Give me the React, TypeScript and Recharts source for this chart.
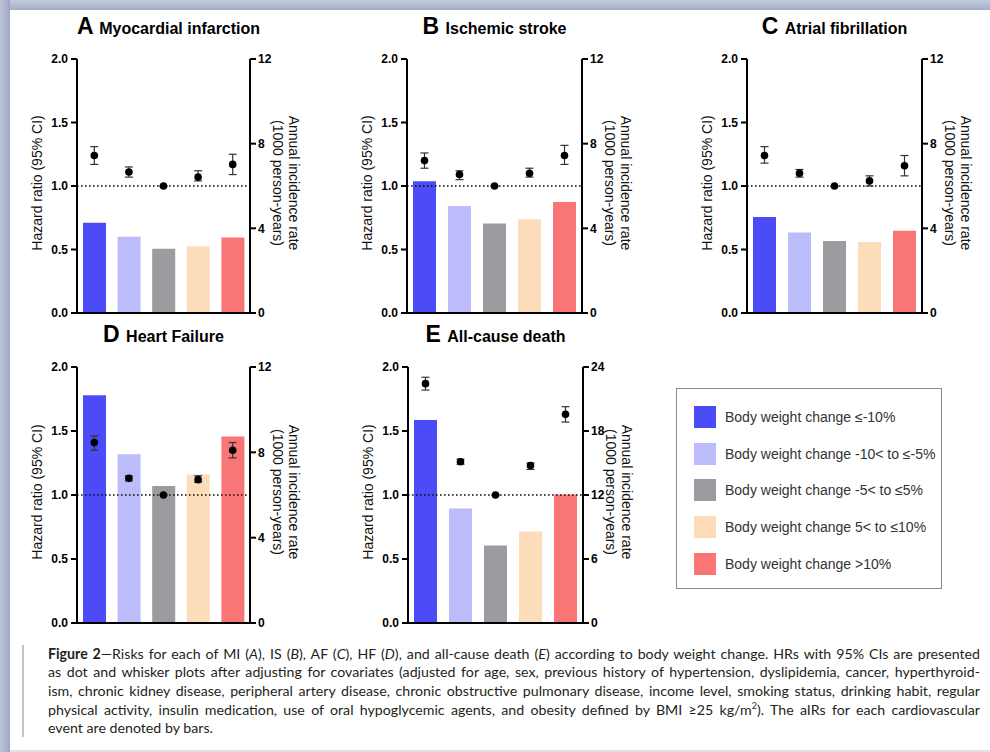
import React from "react";
import {
  ComposedChart,
  Bar,
  Line,
  Cell,
  XAxis,
  YAxis,
  ErrorBar,
  ReferenceLine,
} from "recharts";

// body weight change groups (x categories)
const groups = ["≤-10%", "-10< to ≤-5%", "-5< to ≤5%", "5< to ≤10%", ">10%"];
const groupColors = ["#4b4bf7", "#bcbcfb", "#9c9ca0", "#fddcb9", "#fa7676"];

const hrTicks = [0, 0.5, 1, 1.5, 2];
const rateTicks12 = [0, 4, 8, 12];
const rateTicks24 = [0, 6, 12, 18, 24];

// A: myocardial infarction
const miRate = [4.26, 3.6, 3.03, 3.15, 3.57];
const miHr = [1.24, 1.11, 1.0, 1.07, 1.17];
const miLo = [1.17, 1.07, 1.0, 1.04, 1.09];
const miHi = [1.31, 1.15, 1.0, 1.12, 1.25];

// B: ischemic stroke
const isRate = [6.23, 5.06, 4.23, 4.43, 5.25];
const isHr = [1.2, 1.09, 1.0, 1.1, 1.24];
const isLo = [1.14, 1.05, 1.0, 1.07, 1.17];
const isHi = [1.26, 1.12, 1.0, 1.14, 1.32];

// C: atrial fibrillation
const afRate = [4.54, 3.8, 3.4, 3.36, 3.88];
const afHr = [1.24, 1.1, 1.0, 1.04, 1.16];
const afLo = [1.18, 1.07, 1.0, 1.0, 1.08];
const afHi = [1.31, 1.13, 1.0, 1.08, 1.24];

// D: heart failure
const hfRate = [10.67, 7.91, 6.42, 6.96, 8.74];
const hfHr = [1.41, 1.13, 1.0, 1.12, 1.35];
const hfLo = [1.35, 1.11, 1.0, 1.1, 1.29];
const hfHi = [1.46, 1.15, 1.0, 1.15, 1.41];

// E: all-cause death
const deathRate = [19.03, 10.74, 7.27, 8.58, 12.05];
const deathHr = [1.87, 1.26, 1.0, 1.23, 1.63];
const deathLo = [1.82, 1.24, 1.0, 1.2, 1.57];
const deathHi = [1.92, 1.28, 1.0, 1.25, 1.69];

const FONT = '"Liberation Sans", Arial, Helvetica, sans-serif';

const buildRows = (rate: number[], hr: number[], lo: number[], hi: number[]) =>
  groups.map((g, i) => ({
    group: g,
    rate: rate[i],
    hr: hr[i],
    err: [hr[i] - lo[i], hi[i] - hr[i]],
  }));

const HrLabel = (props: any) => {
  const { x, y, width, height } = props.viewBox;
  const cx = x + width - 40;
  const cy = y + height / 2 - 3;
  return (
    <text
      x={cx}
      y={cy}
      transform={`rotate(-90 ${cx} ${cy})`}
      textAnchor="middle"
      dominantBaseline="central"
      fontSize={14}
      fontFamily={FONT}
      fill="#111"
    >
      Hazard ratio (95% CI)
    </text>
  );
};

const RateLabel = (props: any) => {
  const { x, y, height } = props.viewBox;
  const cy = y + height / 2 - 3;
  const c1 = x + 44;
  const c2 = x + 28;
  return (
    <g fontSize={14} fontFamily={FONT} fill="#111">
      <text
        x={c1}
        y={cy}
        transform={`rotate(90 ${c1} ${cy})`}
        textAnchor="middle"
        dominantBaseline="central"
      >
        Annual incidence rate
      </text>
      <text
        x={c2}
        y={cy}
        transform={`rotate(90 ${c2} ${cy})`}
        textAnchor="middle"
        dominantBaseline="central"
      >
        (1000 person-years)
      </text>
    </g>
  );
};

interface PanelProps {
  letter: string;
  name: string;
  left: number;
  top: number;
  plotW: number;
  plotH: number;
  rate: number[];
  hr: number[];
  lo: number[];
  hi: number[];
  rateTicks: number[];
}

function Panel({ letter, name, left, top, plotW, plotH, rate, hr, lo, hi, rateTicks }: PanelProps) {
  const rows = buildRows(rate, hr, lo, hi);
  const axisStyle = { stroke: "#000", strokeWidth: 2 };
  const tickStyle = { fontSize: 12, fontWeight: 700, fill: "#000", fontFamily: FONT };
  return (
    <>
      <div
        style={{
          position: "absolute",
          left,
          top: top - 46,
          width: plotW,
          height: 26,
          lineHeight: "26px",
          textAlign: "center",
          fontFamily: FONT,
          fontWeight: 700,
          whiteSpace: "nowrap",
          color: "#000",
        }}
      >
        <span style={{ fontSize: 23 }}>{letter} </span>
        <span style={{ fontSize: 16 }}>{name}</span>
      </div>
      <div style={{ position: "absolute", left: left - 70, top: top - 12 }}>
        <ComposedChart
          width={plotW + 140}
          height={plotH + 22}
          data={rows}
          margin={{ top: 12, right: 0, bottom: 9, left: 0 }}
        >
          <XAxis
            dataKey="group"
            tick={false}
            tickLine={false}
            height={1}
            axisLine={axisStyle}
          />
          <YAxis
            yAxisId="hr"
            orientation="left"
            width={70}
            domain={[0, 2]}
            ticks={hrTicks}
            interval={0}
            tickFormatter={(v: number) => v.toFixed(1)}
            axisLine={axisStyle}
            tickLine={axisStyle}
            tickSize={6}
            tickMargin={3}
            tick={tickStyle}
            label={HrLabel}
          />
          <YAxis
            yAxisId="rate"
            orientation="right"
            width={70}
            domain={[0, rateTicks[rateTicks.length - 1]]}
            ticks={rateTicks}
            interval={0}
            axisLine={axisStyle}
            tickLine={axisStyle}
            tickSize={6}
            tickMargin={2}
            tick={tickStyle}
            label={RateLabel}
          />
          <Bar yAxisId="rate" dataKey="rate" barSize={23} isAnimationActive={false}>
            {rows.map((r, i) => (
              <Cell key={r.group} fill={groupColors[i]} />
            ))}
          </Bar>
          <ReferenceLine
            yAxisId="hr"
            y={1}
            stroke="#111"
            strokeWidth={1.6}
            strokeDasharray="1.6 2.4"
          />
          <Line
            yAxisId="hr"
            dataKey="hr"
            stroke="none"
            dot={{ r: 3.8, fill: "#000", stroke: "#000", strokeWidth: 0 }}
            activeDot={false}
            isAnimationActive={false}
          >
            <ErrorBar dataKey="err" direction="y" width={4} stroke="#333" strokeWidth={1.2} />
          </Line>
        </ComposedChart>
      </div>
    </>
  );
}

const captionLines = [
  "as dot and whisker plots after adjusting for covariates (adjusted for age, sex, previous history of hypertension, dyslipidemia, cancer, hyperthyroid-",
  "ism, chronic kidney disease, peripheral artery disease, chronic obstructive pulmonary disease, income level, smoking status, drinking habit, regular",
];

export default function App() {
  const lineStyle: React.CSSProperties = {
    height: 18.7,
    lineHeight: "18.7px",
    whiteSpace: "nowrap",
    textAlign: "justify",
    textAlignLast: "justify",
  };
  return (
    <div
      style={{
        position: "absolute",
        left: 0,
        top: 0,
        width: 990,
        height: 752,
        overflow: "hidden",
        background: "#fff",
        fontFamily: FONT,
      }}
    >
      {/* frame */}
      <div
        style={{
          position: "absolute",
          left: 0,
          top: 0,
          width: 990,
          height: 10,
          background: "linear-gradient(to bottom, #c6ccdb, #a3adc6)",
        }}
      />
      <div
        style={{
          position: "absolute",
          left: 0,
          top: 0,
          width: 10,
          height: 752,
          background: "linear-gradient(to right, #bcc4d7, #9ca7c2)",
        }}
      />
      <div
        style={{
          position: "absolute",
          left: 10,
          top: 750,
          width: 980,
          height: 2,
          background: "#e2e2e2",
        }}
      />

      <Panel letter="A" name="Myocardial infarction" left={77} top={59} plotW={173} plotH={254}
        rate={miRate} hr={miHr} lo={miLo} hi={miHi} rateTicks={rateTicks12} />
      <Panel letter="B" name="Ischemic stroke" left={407} top={59} plotW={175} plotH={254}
        rate={isRate} hr={isHr} lo={isLo} hi={isHi} rateTicks={rateTicks12} />
      <Panel letter="C" name="Atrial fibrillation" left={747} top={59} plotW={175} plotH={254}
        rate={afRate} hr={afHr} lo={afLo} hi={afHi} rateTicks={rateTicks12} />
      <Panel letter="D" name="Heart Failure" left={77} top={367} plotW={173} plotH={256}
        rate={hfRate} hr={hfHr} lo={hfLo} hi={hfHi} rateTicks={rateTicks12} />
      <Panel letter="E" name="All-cause death" left={408} top={367} plotW={175} plotH={256}
        rate={deathRate} hr={deathHr} lo={deathLo} hi={deathHi} rateTicks={rateTicks24} />

      {/* legend */}
      <div
        style={{
          position: "absolute",
          left: 676,
          top: 388,
          width: 264,
          height: 199,
          border: "1.5px solid #8a8a8a",
        }}
      >
        {groups.map((g, i) => (
          <div
            key={g}
            style={{
              position: "absolute",
              left: 17,
              top: 17 + i * 36.7,
              height: 22,
              display: "flex",
              alignItems: "center",
              whiteSpace: "nowrap",
            }}
          >
            <div style={{ width: 22, height: 22, background: groupColors[i] }} />
            <span style={{ marginLeft: 9, fontSize: 14, color: "#333" }}>
              Body weight change {g}
            </span>
          </div>
        ))}
      </div>

      {/* caption */}
      <div
        style={{
          position: "absolute",
          left: 22,
          top: 645,
          width: 2,
          height: 92,
          background: "#c4c4c4",
        }}
      />
      <div
        style={{
          position: "absolute",
          left: 48,
          top: 644.6,
          width: 932,
          fontFamily: "Lato, 'Open Sans', sans-serif",
          fontSize: 14.2,
          color: "#231f20",
        }}
      >
        <div style={lineStyle}>
          <b>Figure 2</b>—Risks for each of MI (<i>A</i>), IS (<i>B</i>), AF (<i>C</i>), HF (<i>D</i>),
          and all-cause death (<i>E</i>) according to body weight change. HRs with 95% CIs are
          presented
        </div>
        {captionLines.map((l) => (
          <div key={l} style={lineStyle}>
            {l}
          </div>
        ))}
        <div style={lineStyle}>
          physical activity, insulin medication, use of oral hypoglycemic agents, and obesity
          defined by BMI ≥25 kg/m<sup style={{ fontSize: 9, lineHeight: 0 }}>2</sup>). The aIRs for
          each cardiovascular
        </div>
        <div style={{ ...lineStyle, textAlign: "left", textAlignLast: "left" }}>
          event are denoted by bars.
        </div>
      </div>
    </div>
  );
}
